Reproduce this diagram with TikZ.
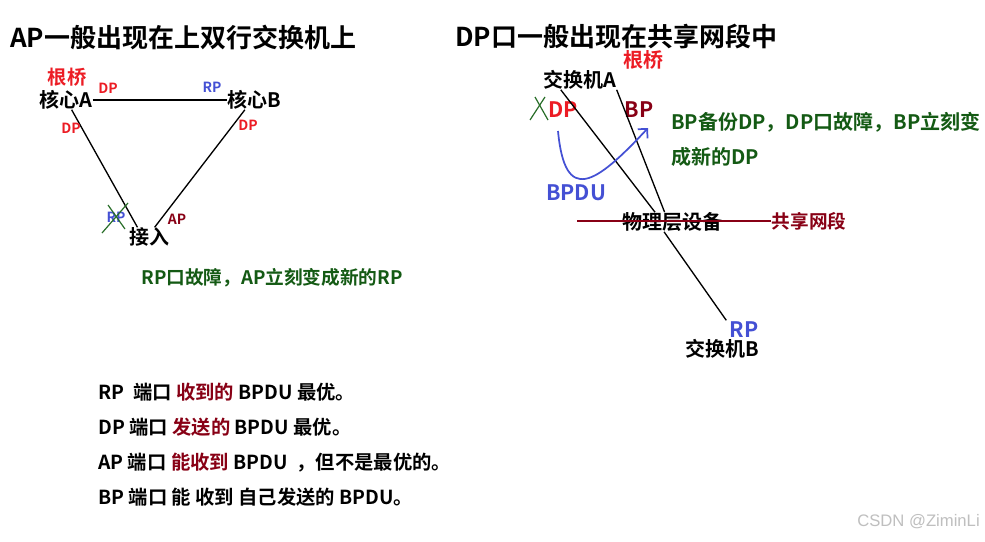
\documentclass[tikz,border=0pt]{standalone}
\usepackage{fontspec}
\setmainfont{Noto Sans CJK SC Bold}
\newfontfamily\wmfont{Liberation Sans}
\usepackage{xcolor}
\usetikzlibrary{arrows.meta, calc}

\definecolor{rootred}{RGB}{236,28,36}
\definecolor{portblue}{RGB}{68,80,212}
\definecolor{darkred}{RGB}{136,0,21}
\definecolor{notegreen}{RGB}{20,90,20}
\definecolor{crossgreen}{RGB}{40,110,40}

\begin{document}
\begin{tikzpicture}[x=0.75pt, y=-0.75pt,
  title/.style={font=\fontsize{19.5}{22}\selectfont, anchor=west, inner sep=0},
  dev/.style={font=\fontsize{15}{17}\selectfont, inner sep=0},
  root/.style={font=\fontsize{14.5}{16}\selectfont, text=rootred, inner sep=0},
  port/.style={font=\fontsize{10.5}{12}\selectfont, inner sep=0},
  bigport/.style={font=\fontsize{16}{18}\selectfont, inner sep=0},
  note/.style={font=\fontsize{14}{16}\selectfont, inner sep=0},
  rule/.style={font=\fontsize{14.5}{16}\selectfont, anchor=west, inner sep=0},
  link/.style={line width=1pt},
  cross/.style={draw=crossgreen, line width=0.9pt},
  seg/.style={draw=darkred, line width=2.2pt},
  bpduarr/.style={draw=portblue, line width=1.3pt, -{Straight Barb[length=5pt, width=10pt]}}
]
  \fill[white] (0,0) rectangle (985,542);
  \useasboundingbox (0,0) rectangle (985,542);

  % titles
  \node[title] (titleAP) at (10,37) {AP一般出现在上双行交换机上};
  \node[title] (titleDP) at (455,37) {DP口一般出现在共享网段中};

  % left: triangle
  \node[root] (rootL) at (67,77) {根桥};
  \node[dev] (coreA) at (66,100) {核心A};
  \node[dev] (coreB) at (254,100) {核心B};
  \node[dev] (access) at (149,237) {接入};

  \draw[link] (coreA.east) -- (coreB.west);
  \draw[link] (coreA.-60) -- (access.140);
  \draw[link] (coreB.-133) -- (access.60);

  \node[port, text=rootred] (dpAB) at (108,88) {DP};
  \node[port, text=portblue] (rpBA) at (212,87) {RP};
  \node[port, text=rootred] (dpAacc) at (71,128) {DP};
  \node[port, text=rootred] (dpBacc) at (248,125) {DP};
  \node[port, text=portblue] (rpFail) at (116,217) {RP};
  \node[port, text=darkred] (apAcc) at (177,219) {AP};
  \draw[cross] (128,203) -- (102,233);
  \draw[cross] (108,205) -- (125,229);

  \node[note, text=notegreen] (noteL) at (272,278) {RP口故障，AP立刻变成新的RP};

  % right: shared segment
  \node[root, font=\fontsize{15}{17}\selectfont] (rootR) at (643,60) {根桥};
  \node[dev] (swA) at (580,80) {交换机A};
  \node[dev] (phys) at (672,222) {物理层设备};
  \node[dev] (swB) at (722,349) {交换机B};
  \node[note, text=darkred] (segLbl) at (809,221) {共享网段};

  \node[bigport, text=rootred] (dpA) at (563,110) {DP};
  \node[bigport, text=darkred] (bpA) at (639,110) {BP};
  \node[bigport, text=portblue] (rpB) at (744,330) {RP};
  \node[bigport, text=portblue] (bpdu) at (576,193) {BPDU};

  \draw[link] (swA.-153) -- (phys.150);
  \draw[link] (swA.south east) -- (phys.127);
  \draw[link, shorten >=4pt] (phys.-129) -- (rpB.160);

  \coordinate (segStart) at (577,221);
  \draw[seg] (segStart) -- (segLbl.west);

  \draw[cross] (535,97) -- (548,120);
  \draw[cross] (545,97) -- (530,120);

  \coordinate (bpduFrom) at (558,131);
  \coordinate (bpduTo) at (648,128);
  \draw[bpduarr] (bpduFrom) .. controls (565,205) and (595,185) .. (bpduTo);

  \node[note, font=\fontsize{15}{26.25}\selectfont, text=notegreen, anchor=west, align=left] (noteR) at (671,139.5)
    {BP备份DP，DP口故障，BP立刻变\\成新的DP};

  % port rules
  \node[rule] (ruleRP) at (98,392) {RP\ \ 端口 \textcolor{darkred}{收到的} BPDU 最优。};
  \node[rule] (ruleDP) at (98,427.5) {DP 端口 \textcolor{darkred}{发送的} BPDU 最优。};
  \node[rule] (ruleAP) at (98,462.5) {AP 端口 \textcolor{darkred}{能收到} BPDU \ ，但不是最优的。};
  \node[rule] (ruleBP) at (98,497.5) {BP 端口 能 收到 自己发送的 BPDU。};

  \node[font=\wmfont\fontsize{12.5}{14}\selectfont, text=black!25, anchor=east, inner sep=0] (mark) at (980,522) {CSDN @ZiminLi};
\end{tikzpicture}
\end{document}
